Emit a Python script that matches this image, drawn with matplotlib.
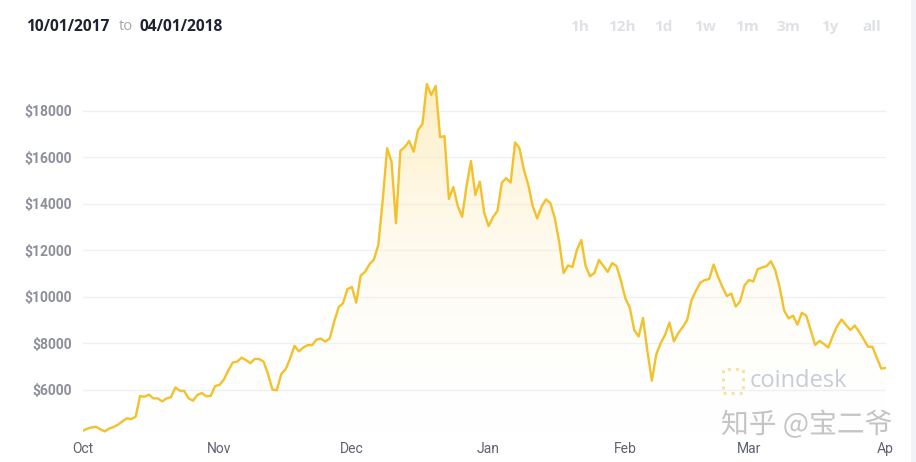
import numpy as np
import pandas as pd
import matplotlib
matplotlib.use("Agg")
from matplotlib import pyplot as plt
import matplotlib.dates as mdates
import matplotlib.patheffects as pe
from matplotlib.colors import LinearSegmentedColormap
from matplotlib.patches import Rectangle


start_date = "2017-10-01"

# daily BTC price (USD), 10/01/2017 -> 04/01/2018
prices = [
    4250, 4330, 4390, 4420, 4310, 4220, 4340, 4410, 4510, 4650,
    4780, 4750, 4850, 5740, 5710, 5800, 5640, 5640, 5510, 5640,
    5690, 6110, 5970, 5960, 5640, 5540, 5790, 5870, 5730, 5740,
    6170, 6220, 6450, 6840, 7180, 7220, 7390, 7290, 7150, 7340,
    7330, 7220, 6690, 6020, 5990, 6690, 6890, 7350, 7900, 7660,
    7830, 7930, 7930, 8170, 8210, 8080, 8220, 8940, 9560, 9730,
    10340, 10430, 9760, 10920, 11080, 11410, 11610, 12240, 14170, 16400,
    15820, 13170, 16290, 16450, 16710, 16250, 17180, 17440, 19160, 18690,
    19080, 16880, 16920, 14220, 14730, 13920, 13450, 14770, 15850, 14390,
    14960, 13630, 13050, 13440, 13700, 14920, 15110, 14920, 16650, 16400,
    15460, 14820, 13910, 13380, 13890, 14200, 14040, 13400, 12370, 11030,
    11360, 11290, 12020, 12450, 11330, 10890, 11040, 11590, 11340, 11080,
    11460, 11330, 10700, 9940, 9550, 8580, 8300, 9100, 7660, 6400,
    7530, 8010, 8370, 8900, 8090, 8450, 8710, 9010, 9870, 10270,
    10620, 10730, 10770, 11400, 10870, 10430, 10040, 10150, 9590, 9810,
    10500, 10730, 10670, 11200, 11270, 11330, 11540, 11140, 10390, 9410,
    9080, 9200, 8810, 9320, 9200, 8580, 7940, 8110, 7980, 7830,
    8320, 8750, 9030, 8800, 8580, 8770, 8500, 8190, 7860, 7860,
    7380, 6920, 6950,
]

month_starts = ["2017-10-01", "2017-11-01", "2017-12-01", "2018-01-01",
                "2018-02-01", "2018-03-01", "2018-04-01"]
month_labels = ["Oct", "Nov", "Dec", "Jan", "Feb", "Mar", "Ap"]
price_ticks = [6000, 8000, 10000, 12000, 14000, 16000, 18000]
range_buttons = ["1h", "12h", "1d", "1w", "1m", "3m", "1y", "all"]

dates = pd.date_range(start_date, periods=len(prices), freq="D")
y_min, y_max = 4000, 20000

fig = plt.figure(figsize=(9.16, 4.62), dpi=100)
ax = fig.add_axes([0.0903, 0.0552, 0.8766, 0.8052])

line_color = "#f3c12c"
ax.plot(dates, prices, color=line_color, lw=1.7, zorder=3, solid_joinstyle="round")

# gradient fill under the line
fill = ax.fill_between(dates, prices, y_min, color="none", lw=0)
fade = LinearSegmentedColormap.from_list(
    "fade", [(1, 1, 1, 0), (0.99, 0.89, 0.60, 0.6)])
x0, x1 = mdates.date2num(dates[0]), mdates.date2num(dates[-1])
grad = ax.imshow(np.linspace(0, 1, 256).reshape(-1, 1), cmap=fade, aspect="auto",
                 extent=[x0, x1, y_min, 19300], origin="lower", zorder=1)
grad.set_clip_path(fill.get_paths()[0], transform=ax.transData)

ax.set_xlim(dates[0], dates[-1])
ax.set_ylim(y_min, y_max)

ax.set_yticks(price_ticks)
ax.set_yticklabels([f"${v}" for v in price_ticks], family="Roboto",
                   fontweight="bold", fontsize=10, color="#8c8f9a")
ax.set_xticks(pd.to_datetime(month_starts))
ax.set_xticklabels(month_labels, family="Roboto", fontsize=10, color="#5d6170")
ax.tick_params(axis="y", length=0, pad=8)
ax.tick_params(axis="x", length=0, pad=4)
ax.grid(axis="y", color="#eff0f3", lw=1)
ax.set_axisbelow(True)
for s in ax.spines.values():
    s.set_visible(False)

# header
fig.text(0.0284, 0.9416, "10/01/2017", family="Open Sans", fontweight="bold",
         fontsize=11.2, color="#1e2232", va="center")
fig.text(0.130, 0.9416, "to", family="Open Sans", fontsize=10.5, color="#a4a7b0", va="center")
fig.text(0.1528, 0.9416, "04/01/2018", family="Open Sans", fontweight="bold",
         fontsize=11.2, color="#1e2232", va="center")
for xpos, lbl in zip(np.linspace(580, 872, len(range_buttons)) / 916, range_buttons):
    fig.text(xpos, 0.9416, lbl, family="Open Sans", fontweight="bold",
             fontsize=11, color="#dfe1e6", ha="center", va="center")

# coindesk watermark
fig.add_artist(Rectangle((723 / 916, 1 - 393 / 462), 20 / 916, 24 / 462,
                         transform=fig.transFigure, fill=False,
                         ec="#fbe2a4", lw=2.2, ls=":"))
fig.text(750 / 916, 1 - 381 / 462, "coindesk", family="Open Sans", fontsize=17,
         color="#c9ccd6", va="center")

# zhihu watermark
fig.text(721 / 916, 1 - 425 / 462, "知乎 @宝二爷",
         family=["Noto Sans CJK SC", "DejaVu Sans"], fontsize=20,
         color="#c4c4c4", va="center",
         path_effects=[pe.withStroke(linewidth=1.5, foreground="white")])

# right border strip
fig.add_artist(Rectangle((911 / 916, 0), 5 / 916, 1, transform=fig.transFigure,
                         color="#f1f3f8", lw=0))

fig.savefig("out.png", dpi=100)
